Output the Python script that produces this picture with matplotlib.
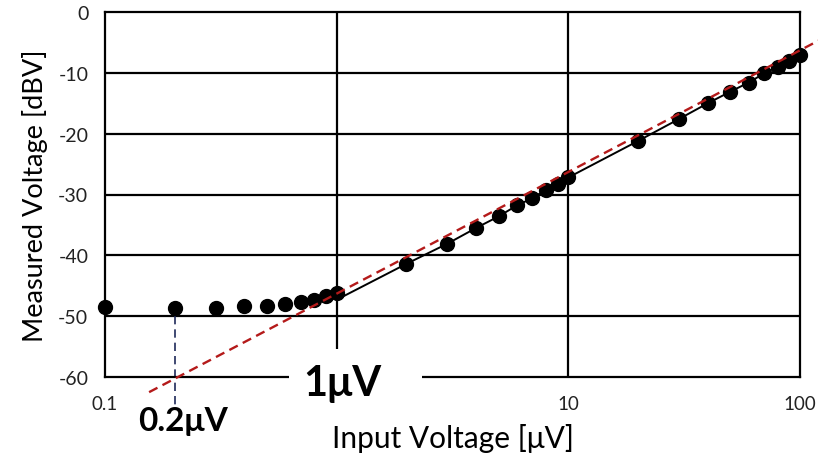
import matplotlib
matplotlib.use("Agg")
import matplotlib.pyplot as plt
from matplotlib.patches import Rectangle
import numpy as np

# ---- data ----
x_meas = [0.1, 0.2, 0.3, 0.4, 0.5, 0.6, 0.7, 0.8, 0.9, 1.0,
          2, 3, 4, 5, 6, 7, 8, 9, 10,
          20, 30, 40, 50, 60, 70, 80, 90, 100]
y_meas = [-48.5, -48.6, -48.6, -48.4, -48.3, -48.0, -47.6, -47.3, -46.7, -46.2,
          -41.4, -38.1, -35.5, -33.6, -31.8, -30.6, -29.2, -28.3, -27.2,
          -21.2, -17.6, -15.0, -13.1, -11.6, -10.1, -9.0, -8.0, -7.1]
x_line = [1, 2, 3, 4, 5, 6, 7, 8, 9, 10, 20, 30, 40, 50, 60, 70, 80, 90, 100]
y_line = [-47.3, -41.4, -38.1, -35.5, -33.6, -31.8, -30.6, -29.2, -28.3, -27.2,
          -21.2, -17.6, -15.0, -13.1, -11.6, -10.1, -9.0, -8.0, -7.1]
x_ref = [0.155, 120]          # 20 dB/decade reference line
ref_offset = -46.3
x_floor = 0.2
y_ticks = [0, -10, -20, -30, -40, -50, -60]
x_ticks = [0.1, 10, 100]
x_tick_labels = ["0.1", "10", "100"]

plt.rcParams['font.family'] = ['Lato', 'DejaVu Sans']

fig = plt.figure(figsize=(8.18, 4.60), dpi=100)
ax = fig.add_axes([105/818, 1 - 378/460, (800 - 105)/818, (378 - 13)/460])
ax.set_xscale('log')
ax.set_xlim(0.1, 100)
ax.set_ylim(-60, 0)

# grid
for gx in [1, 10]:
    ax.axvline(gx, color='black', lw=1.6, zorder=1)
for gy in [-10, -20, -30, -40, -50]:
    ax.axhline(gy, color='black', lw=1.6, zorder=1)
for s in ax.spines.values():
    s.set_linewidth(1.6)
    s.set_color('black')

# data
ax.plot(x_line, y_line, color='black', lw=1.4, zorder=3)
ax.plot(x_meas, y_meas, 'o', color='black', ms=10, zorder=4, clip_on=False)

# reference line (20 dB/decade)
xr = np.array(x_ref)
ax.plot(xr, 20*np.log10(xr) + ref_offset, color='#B41A1A', lw=1.7,
        dashes=(4, 2.4), zorder=5, clip_on=False)

# 0.2uV marker
ax.plot([x_floor, x_floor], [-50, -65], color='#1F2A5A', lw=1.2,
        dashes=(5, 3), zorder=2, clip_on=False)

ax.set_yticks(y_ticks)
ax.set_yticklabels([str(v) for v in y_ticks], fontsize=14, color='#222222')
ax.set_xticks(x_ticks)
ax.set_xticklabels(x_tick_labels, fontsize=13.5, color='#222222')
ax.xaxis.set_minor_locator(matplotlib.ticker.NullLocator())
ax.tick_params(axis='both', length=0)
ax.tick_params(axis='x', pad=13)
ax.tick_params(axis='y', pad=12)

ax.set_ylabel("Measured Voltage [dBV]", fontsize=19.5, labelpad=7)
ax.set_xlabel("Input Voltage [μV]", fontsize=21.5, labelpad=8)

# white box behind the "1μV" label
fig.add_artist(Rectangle((289/818, 1 - 412/460), 133/818, 62/460,
                         transform=fig.transFigure, facecolor='white',
                         edgecolor='none', zorder=5))
fig.text(342/818, 1 - 384/460, "1μV", fontsize=30, fontweight='bold',
         ha='center', va='center', zorder=6)
fig.text(183/818, 1 - 421/460, "0.2μV", fontsize=24, fontweight='bold',
         ha='center', va='center', zorder=6)

fig.savefig("out.png", dpi=100)
